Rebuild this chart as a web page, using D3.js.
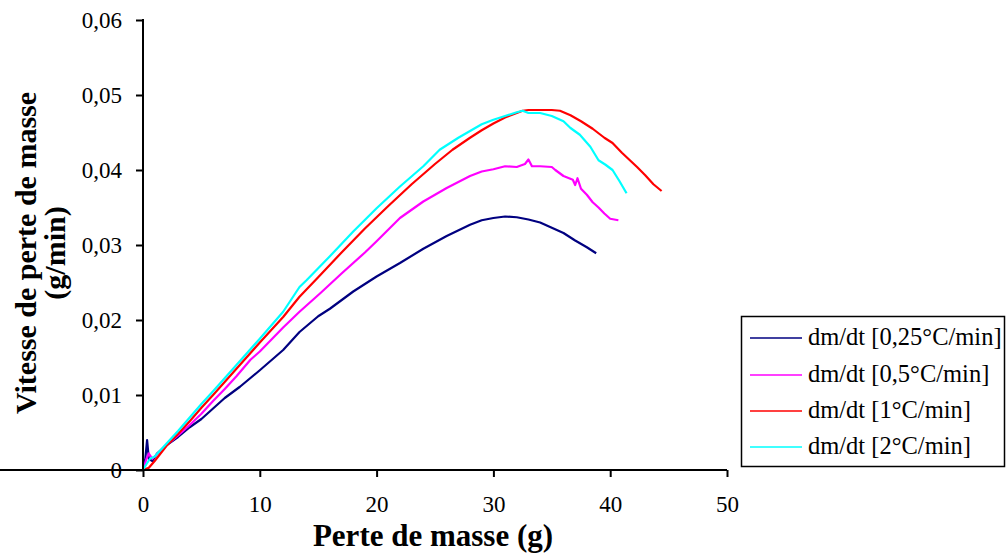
<!DOCTYPE html>
<html><head><meta charset="utf-8">
<script src="https://cdn.jsdelivr.net/npm/d3@7"></script>
<style>body{margin:0;background:#fff}svg{display:block}</style>
</head><body>
<script>
const xTicks = [0,10,20,30,40,50];
const yTicks = [0,0.01,0.02,0.03,0.04,0.05,0.06];
const seriesNames = ["dm/dt [0,25°C/min]","dm/dt [0,5°C/min]","dm/dt [1°C/min]","dm/dt [2°C/min]"];
const seriesColors = ["#000080","#ff00ff","#ff0000","#00ffff"];

const x025 = [0,0.2,0.35,0.5,0.8,1.2,2,3,4,5,6,7,8.3,10,12,13.4,15,16,18,20,22,24,26,28,29,30,31,32,33,34,35,36,37,38,38.8];
const y025 = [0,0.0015,0.004,0.0015,0.0012,0.0022,0.0033,0.0044,0.0057,0.0068,0.0082,0.0096,0.0111,0.0133,0.016,0.0184,0.0205,0.0215,0.0238,0.0258,0.0276,0.0295,0.0312,0.0327,0.0333,0.0336,0.0338,0.0337,0.0334,0.033,0.0323,0.0316,0.0306,0.0297,0.0289];

const x05 = [0,0.3,0.5,0.8,1.5,2,3,4,5,6,7,8,9.2,10,12,13.4,15.2,17,19,20,22,24,26,28,29,30,31,32,32.7,33,33.3,34,35,35.3,36,36.8,37,37.2,37.5,38,38.5,39,39.5,40,40.7];
const y05 = [0,0.0015,0.0022,0.0015,0.0025,0.0033,0.0046,0.006,0.0075,0.0092,0.0108,0.0125,0.0147,0.0158,0.019,0.0211,0.0236,0.0262,0.029,0.0305,0.0336,0.0358,0.0376,0.0392,0.0398,0.0401,0.0405,0.0404,0.0408,0.0414,0.0405,0.0405,0.0404,0.04,0.0392,0.0387,0.038,0.0389,0.0375,0.0367,0.0357,0.035,0.0342,0.0335,0.0333];

const x1 = [0,0.5,1,2,3,4,5,6,8,10,12,13.4,15,17,19,21,23,25,26.5,28,29,30,31,32,32.5,33,34,35,35.7,36.6,37.5,38.5,39.5,40.2,41,42.3,43,43.7,44.4];
const y1 = [0,0.0003,0.0012,0.0032,0.0048,0.0065,0.0083,0.01,0.0135,0.017,0.0204,0.0231,0.0257,0.029,0.0322,0.0352,0.0381,0.0408,0.0427,0.0443,0.0453,0.0462,0.047,0.0476,0.0479,0.048,0.048,0.048,0.0479,0.0473,0.0465,0.0455,0.0443,0.0436,0.0423,0.0404,0.0393,0.0381,0.0372];

const x2 = [0,0.3,0.6,1,2,3,4,5,6,8,10,12,13.4,14,16,18,20,22,24,25.4,27,28,29,30,31,32,32.5,33,34,35,36,36.6,37.4,38.3,39,39.6,40.2,40.8,41.4];
const y2 = [0,0.0008,0.0015,0.0018,0.0035,0.0052,0.007,0.0088,0.0105,0.014,0.0175,0.0211,0.0244,0.0253,0.0285,0.0318,0.0349,0.0378,0.0405,0.0427,0.0443,0.0452,0.0461,0.0467,0.0472,0.0477,0.0479,0.0476,0.0476,0.0472,0.0465,0.0456,0.0447,0.0431,0.0413,0.0407,0.04,0.0385,0.0369];

const seriesX = [x025,x05,x1,x2];
const seriesY = [y025,y05,y1,y2];

const W = 1007, H = 555;
const svg = d3.select("body").append("svg").attr("width",W).attr("height",H)
  .style("font-family","'Liberation Serif','Times New Roman',serif");
svg.append("rect").attr("width",W).attr("height",H).attr("fill","#fff");

const x = d3.scaleLinear().domain([0,50]).range([143,727]);
const y = d3.scaleLinear().domain([0,0.06]).range([470,20]);

// lines
const line = d3.line().x(d=>x(d[0])).y(d=>y(d[1]));
seriesX.forEach((xs,i)=>{
  const pts = xs.map((v,j)=>[v,seriesY[i][j]]);
  svg.append("path").datum(pts).attr("d",line).attr("fill","none")
    .attr("stroke",seriesColors[i]).attr("stroke-width",2.2).attr("stroke-linejoin","round");
});

// axes
const yAxis = svg.append("g").attr("transform","translate(143,0)")
  .call(d3.axisLeft(y).tickValues(yTicks).tickSize(7).tickPadding(14).tickFormat(d=> d===0?"0":d3.format(".2f")(d).replace(".",",")));
const xAxis = svg.append("g").attr("transform","translate(0,470)")
  .call(d3.axisBottom(x).tickValues(xTicks).tickSize(7).tickPadding(19).tickFormat(d3.format("d")));
[yAxis,xAxis].forEach(g=>{
  g.select(".domain").attr("stroke","#000").attr("stroke-width",2);
  g.selectAll(".tick line").attr("stroke","#000").attr("stroke-width",2);
  g.selectAll("text").attr("fill","#000").style("font-size","23px").style("font-family","'Liberation Serif',serif");
});
yAxis.select(".domain").attr("d","M0,19V470");
xAxis.select(".domain").attr("d","M0,0H727");

// titles
svg.append("text").attr("x",433).attr("y",546).attr("text-anchor","middle")
  .style("font-size","31px").style("font-weight","bold").text("Perte de masse (g)");
svg.append("text").attr("transform","translate(36,253) rotate(-90)").attr("text-anchor","middle")
  .style("font-size","30px").style("font-weight","bold").text("Vitesse de perte de masse");
svg.append("text").attr("transform","translate(65,253) rotate(-90)").attr("text-anchor","middle")
  .style("font-size","30px").style("font-weight","bold").text("(g/min)");

// legend
const lg = svg.append("g");
lg.append("rect").attr("x",741.5).attr("y",316.5).attr("width",263).attr("height",150)
  .attr("fill","#fff").attr("stroke","#000").attr("stroke-width",1.5);
const rowY = [338,375,411,447];
seriesNames.forEach((n,i)=>{
  lg.append("line").attr("x1",750).attr("x2",802).attr("y1",rowY[i]).attr("y2",rowY[i])
    .attr("stroke",seriesColors[i]).attr("stroke-width",1.6);
  lg.append("text").attr("x",808).attr("y",rowY[i]+7).style("font-size","24.5px").text(n);
});
</script>
</body></html>
